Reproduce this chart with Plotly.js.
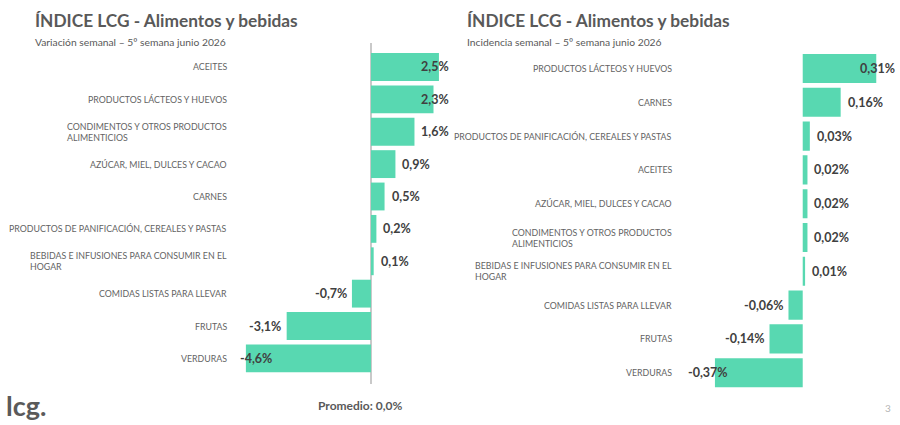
<!DOCTYPE html>
<html>
<head>
<meta charset="utf-8">
<script src="https://cdn.plot.ly/plotly-3.0.1.min.js"></script>
<style>
  html, body { margin: 0; padding: 0; background: #ffffff; }
  #chart { width: 900px; height: 425px; }
</style>
</head>
<body>
<div id="chart"></div>
<script>
// Variación semanal por rubro (%)
const rubrosVariacion = [
  "ACEITES",
  "PRODUCTOS LÁCTEOS Y HUEVOS",
  "CONDIMENTOS Y OTROS PRODUCTOS<br>ALIMENTICIOS",
  "AZÚCAR, MIEL, DULCES Y CACAO",
  "CARNES",
  "PRODUCTOS DE PANIFICACIÓN, CEREALES Y PASTAS",
  "BEBIDAS E INFUSIONES PARA CONSUMIR EN EL<br>HOGAR",
  "COMIDAS LISTAS PARA LLEVAR",
  "FRUTAS",
  "VERDURAS"
];
const variacion = [2.5, 2.3, 1.6, 0.9, 0.5, 0.2, 0.1, -0.7, -3.1, -4.6];

// Incidencia semanal por rubro (p.p.)
const rubrosIncidencia = [
  "PRODUCTOS LÁCTEOS Y HUEVOS",
  "CARNES",
  "PRODUCTOS DE PANIFICACIÓN, CEREALES Y PASTAS",
  "ACEITES",
  "AZÚCAR, MIEL, DULCES Y CACAO",
  "CONDIMENTOS Y OTROS PRODUCTOS<br>ALIMENTICIOS",
  "BEBIDAS E INFUSIONES PARA CONSUMIR EN EL<br>HOGAR",
  "COMIDAS LISTAS PARA LLEVAR",
  "FRUTAS",
  "VERDURAS"
];
const incidencia = [0.31, 0.16, 0.03, 0.02, 0.02, 0.02, 0.01, -0.06, -0.14, -0.37];

const promedio = 0.0;

// ---- layout constants ----
const W = 900, H = 425;
const FONT = "Lato, 'Open Sans', sans-serif";
const BAR = "#58d8b1";
const GREY_TXT = "#595959";
const DARK_TXT = "#404040";

const left = { x0: 238, x1: 449, y0: 43, y1: 384, range: [-4.89, 2.87], yr: [9.79, -0.74], labelRight: 229, dec: 1 };
const right = { x0: 686, x1: 895, y0: 51.6, y1: 389.6, range: [-0.492, 0.389], yr: [9.5, -0.5], labelRight: 674, dec: 2 };

const fmt = (v, d) => v.toFixed(d).replace(".", ",") + "%";

const ctx = document.createElement("canvas").getContext("2d");
const VAL_SIZE = 12.5;
function textW(t) {
  ctx.font = "bold " + VAL_SIZE + "px Lato";
  return ctx.measureText(t).width + 2;
}

// value labels sit just past the bar end, kept inside the plot area
function valueLabels(vals, cats, p, xref, yref) {
  const pxPerUnit = (p.x1 - p.x0) / (p.range[1] - p.range[0]);
  const toPx = v => p.x0 + (v - p.range[0]) * pxPerUnit;
  const toVal = px => p.range[0] + (px - p.x0) / pxPerUnit;
  return vals.map((v, i) => {
    const t = fmt(v, p.dec);
    const w = textW(t);
    const end = toPx(v);
    let lx = v >= 0 ? end + 5 : end - 5 - w;
    lx = Math.min(Math.max(lx, p.x0), p.x1 - w);
    return {
      xref: xref, yref: yref, x: toVal(lx), y: cats[i],
      xanchor: "left", yanchor: "middle", showarrow: false, text: t,
      font: { family: FONT, size: VAL_SIZE, color: DARK_TXT, weight: "bold" }
    };
  });
}

function catLabels(cats, p, yref) {
  return cats.map(c => ({
    xref: "paper", yref: yref, x: p.labelRight / W, y: c,
    xanchor: "right", yanchor: "middle", align: "left", showarrow: false,
    text: c, font: { family: FONT, size: 8.8, color: "#636363" }
  }));
}

const traces = [
  { type: "bar", orientation: "h", x: variacion, y: rubrosVariacion, xaxis: "x", yaxis: "y",
    marker: { color: BAR }, hoverinfo: "skip" },
  { type: "bar", orientation: "h", x: incidencia, y: rubrosIncidencia, xaxis: "x2", yaxis: "y2",
    marker: { color: BAR }, hoverinfo: "skip" }
];

const axX = (p, zl) => ({
  domain: [p.x0 / W, p.x1 / W], range: p.range, autorange: false,
  showgrid: false, showticklabels: false, ticks: "", showline: false,
  zeroline: zl, zerolinecolor: "#c9c9c9", zerolinewidth: 1.5, fixedrange: true
});
const axY = (p, cats, anchor) => ({
  domain: [1 - p.y1 / H, 1 - p.y0 / H], type: "category", categoryorder: "array",
  categoryarray: cats, range: p.yr, autorange: false, anchor: anchor,
  showgrid: false, showticklabels: false, ticks: "", showline: false, zeroline: false, fixedrange: true
});

const TITLE_SIZE = 17.3;
const annotations = [
  ...catLabels(rubrosVariacion, left, "y"),
  ...catLabels(rubrosIncidencia, right, "y2"),
  ...valueLabels(variacion, rubrosVariacion, left, "x", "y"),
  ...valueLabels(incidencia, rubrosIncidencia, right, "x2", "y2"),
  // titles
  { xref: "paper", yref: "paper", x: 33 / W, y: 1 - 20 / H, xanchor: "left", yanchor: "middle", showarrow: false,
    text: "ÍNDICE LCG - Alimentos y bebidas", font: { family: FONT, size: TITLE_SIZE, color: GREY_TXT, weight: "bold" } },
  { xref: "paper", yref: "paper", x: 33 / W, y: 1 - 41.5 / H, xanchor: "left", yanchor: "middle", showarrow: false,
    text: "Variación semanal – 5º semana junio 2026", font: { family: FONT, size: 10.3, color: GREY_TXT } },
  { xref: "paper", yref: "paper", x: 465 / W, y: 1 - 20 / H, xanchor: "left", yanchor: "middle", showarrow: false,
    text: "ÍNDICE LCG - Alimentos y bebidas", font: { family: FONT, size: TITLE_SIZE, color: GREY_TXT, weight: "bold" } },
  { xref: "paper", yref: "paper", x: 465 / W, y: 1 - 41.5 / H, xanchor: "left", yanchor: "middle", showarrow: false,
    text: "Incidencia semanal – 5º semana junio 2026", font: { family: FONT, size: 10.3, color: GREY_TXT } },
  // average
  { xref: "paper", yref: "paper", x: 316 / W, y: 1 - 405 / H, xanchor: "left", yanchor: "middle", showarrow: false,
    text: "Promedio: " + fmt(promedio, 1), font: { family: FONT, size: 12, color: GREY_TXT, weight: "bold" } },
  // logo
  { xref: "paper", yref: "paper", x: 4 / W, y: 1 - 405 / H, xanchor: "left", yanchor: "middle", showarrow: false,
    text: "lcg.", font: { family: FONT, size: 27, color: "#5a5a5a", weight: "bold" } },
  // page number
  { xref: "paper", yref: "paper", x: 888 / W, y: 1 - 408 / H, xanchor: "center", yanchor: "middle", showarrow: false,
    text: "3", font: { family: FONT, size: 10, color: "#b5b5b5" } }
];

const layout = {
  width: W, height: H,
  margin: { l: 0, r: 0, t: 0, b: 0 },
  paper_bgcolor: "#ffffff", plot_bgcolor: "rgba(0,0,0,0)",
  showlegend: false, bargap: 0.14,
  xaxis: axX(left, true),
  yaxis: axY(left, rubrosVariacion, "x"),
  xaxis2: axX(right, false),
  yaxis2: axY(right, rubrosIncidencia, "x2"),
  annotations: annotations
};

Plotly.newPlot("chart", traces, layout, { displayModeBar: false, staticPlot: true });
</script>
</body>
</html>
